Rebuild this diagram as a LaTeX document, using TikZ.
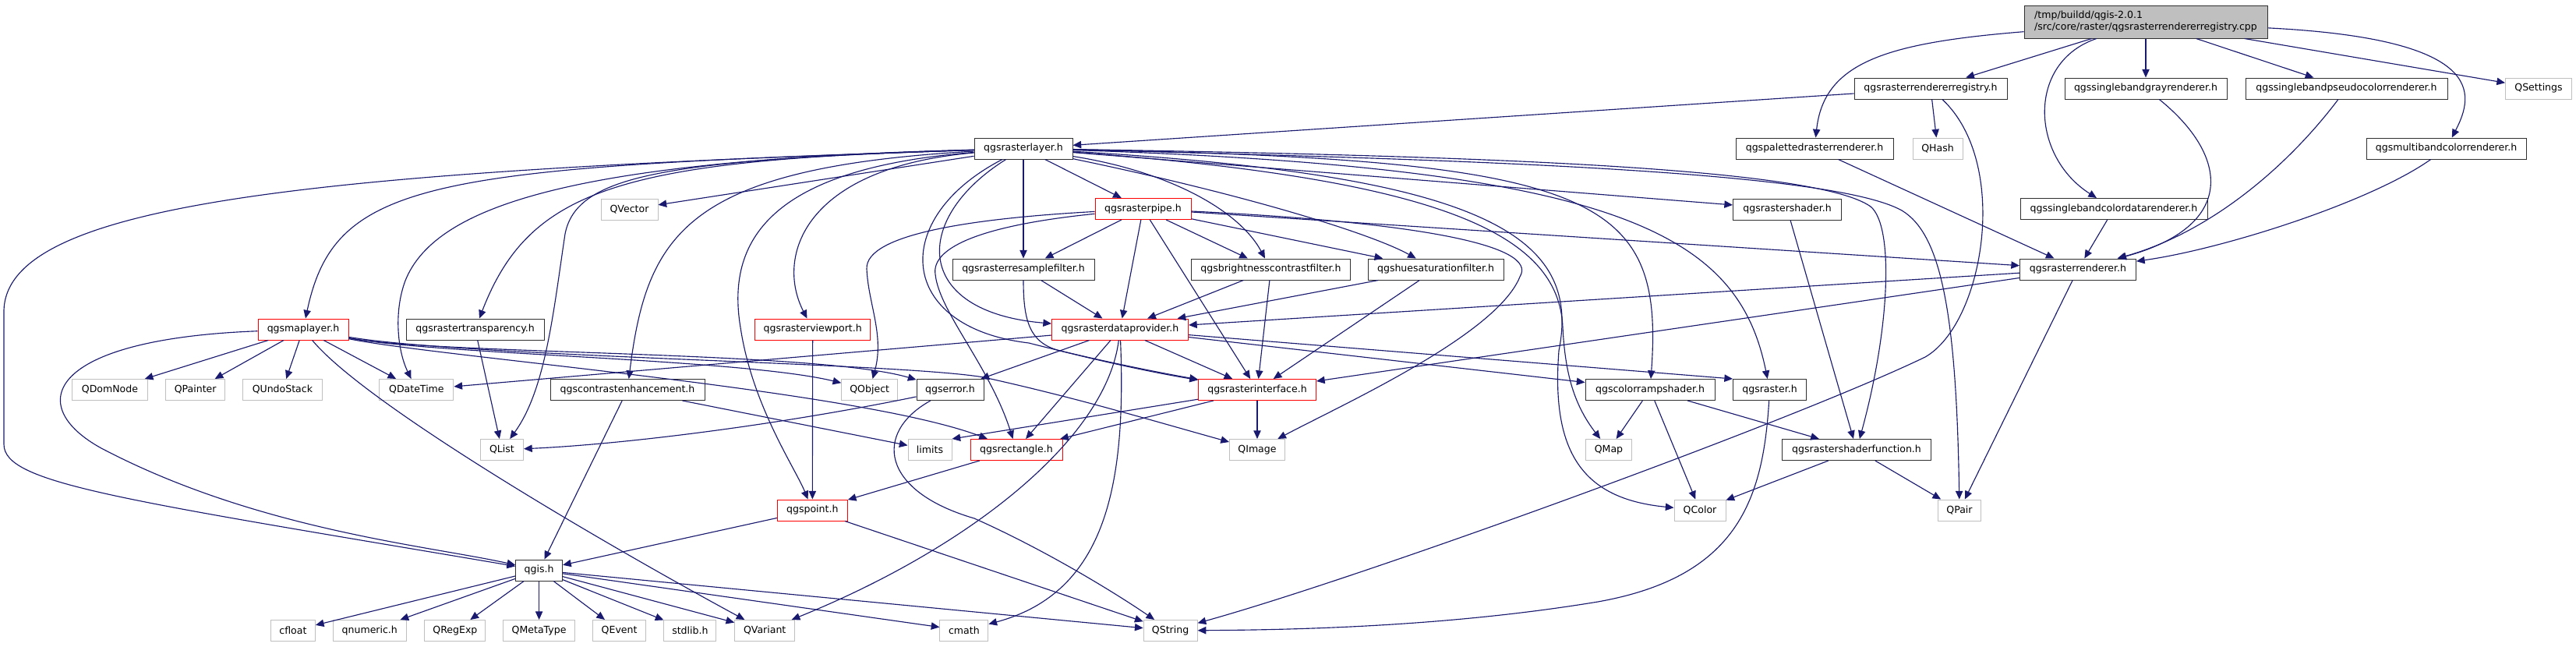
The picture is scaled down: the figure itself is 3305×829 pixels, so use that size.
\documentclass[tikz,border=0pt]{standalone}
\usepackage{fontspec}
\newfontfamily\dvs{DejaVu Sans}
\usetikzlibrary{arrows.meta}
\definecolor{edgecol}{HTML}{191970}
\definecolor{greyb}{HTML}{BFBFBF}
\definecolor{redb}{HTML}{FF0000}
\definecolor{blkb}{HTML}{303030}
\newcommand{\nodefont}{\dvs\fontsize{9.4pt}{11.25pt}\selectfont}
\newcommand{\mk}[6]{\node[#1, minimum width={#5*0.75pt}] (#2) at (#3,#4) {#6};}
\tikzset{
  nb/.style={draw, rectangle, fill=white, minimum height=20.25pt, inner sep=0pt, line width=0.75pt, font=\nodefont, text=black},
  blk/.style={nb, draw=blkb},
  rnode/.style={nb, draw=redb},
  gnode/.style={nb, draw=greyb},
  dep/.style={draw=edgecol, line width=0.85pt, -{Triangle[length=8pt,width=7pt]}},
}
\begin{document}
\begin{tikzpicture}[x={(0.75pt,0)}, y={(0,-0.75pt)}]
\fill[white] (0,0) rectangle (3305,829);
\useasboundingbox (0,0) rectangle (3305,829);

% ---------- nodes ----------
\node[nb, draw=blkb, fill=greyb, minimum width={312*0.75pt}, minimum height={42*0.75pt}, align=left] (root) at (2753,28) {/tmp/buildd/qgis-2.0.1\\/src/core/raster/qgsrasterrendererregistry.cpp};
\mk{blk}{rrreg}{2477}{113.5}{196}{qgsrasterrendererregistry.h}
\mk{blk}{gray}{2753}{113.5}{208}{qgssinglebandgrayrenderer.h}
\mk{blk}{pseudo}{3010.5}{113.5}{259}{qgssinglebandpseudocolorrenderer.h}
\mk{gnode}{qsettings}{3257}{113.5}{85}{QSettings}
\mk{blk}{rlayer}{1313}{190.5}{126}{qgsrasterlayer.h}
\mk{blk}{paletted}{2328}{190.5}{202}{qgspalettedrasterrenderer.h}
\mk{gnode}{qhash}{2486}{190.5}{64}{QHash}
\mk{blk}{multiband}{3138.5}{190.5}{205}{qgsmultibandcolorrenderer.h}
\mk{gnode}{qvector}{807.5}{268.5}{73}{QVector}
\mk{rnode}{rpipe}{1466.5}{268}{123}{qgsrasterpipe.h}
\mk{blk}{rshader}{2293}{268.5}{139}{qgsrastershader.h}
\mk{blk}{cdata}{2712}{268}{240}{qgssinglebandcolordatarenderer.h}
\mk{blk}{resample}{1313}{345.5}{182}{qgsrasterresamplefilter.h}
\mk{blk}{bright}{1630.5}{345.5}{204}{qgsbrightnesscontrastfilter.h}
\mk{blk}{hue}{1842}{345.5}{174}{qgshuesaturationfilter.h}
\mk{blk}{rrenderer}{2666}{345.5}{149}{qgsrasterrenderer.h}
\mk{rnode}{maplayer}{389}{422.5}{116}{qgsmaplayer.h}
\mk{blk}{rtransp}{609.6}{422.5}{177}{qgsrastertransparency.h}
\mk{rnode}{viewport}{1042.7}{422.5}{148}{qgsrasterviewport.h}
\mk{rnode}{dataprov}{1437}{422.5}{175}{qgsrasterdataprovider.h}
\mk{gnode}{qdomnode}{141}{500}{97}{QDomNode}
\mk{gnode}{qpainter}{250.7}{500}{76}{QPainter}
\mk{gnode}{qundostack}{362.4}{500}{102}{QUndoStack}
\mk{gnode}{qdatetime}{534.4}{500}{95}{QDateTime}
\mk{blk}{contrast}{805}{500}{198}{qgscontrastenhancement.h}
\mk{gnode}{qobject}{1115.7}{500}{72}{QObject}
\mk{blk}{qgserror}{1219}{500}{86}{qgserror.h}
\mk{rnode}{rinterface}{1613}{500}{151}{qgsrasterinterface.h}
\mk{blk}{colorramp}{2117}{500}{166}{qgscolorrampshader.h}
\mk{blk}{raster}{2270.5}{500}{94}{qgsraster.h}
\mk{gnode}{qlist}{644}{577}{55}{QList}
\mk{gnode}{limits}{1193}{577}{56}{limits}
\mk{rnode}{rectangle}{1304}{577}{118}{qgsrectangle.h}
\mk{gnode}{qimage}{1613}{577}{71}{QImage}
\mk{gnode}{qmap}{2064}{577}{59}{QMap}
\mk{blk}{shaderfn}{2382}{577}{191}{qgsrastershaderfunction.h}
\mk{rnode}{qgspoint}{1042.3}{654.5}{90}{qgspoint.h}
\mk{gnode}{qcolor}{2181}{654.5}{66}{QColor}
\mk{gnode}{qpair}{2514}{654.5}{55}{QPair}
\mk{blk}{qgis}{691.6}{731.5}{60}{qgis.h}
\mk{gnode}{cfloat}{375.9}{809}{57}{cfloat}
\mk{gnode}{qnumeric}{474.3}{809}{94}{qnumeric.h}
\mk{gnode}{qregexp}{583.9}{809}{78}{QRegExp}
\mk{gnode}{qmetatype}{691.6}{809}{92}{QMetaType}
\mk{gnode}{qevent}{794.6}{809}{68}{QEvent}
\mk{gnode}{stdlib}{885.4}{809}{67}{stdlib.h}
\mk{gnode}{qvariant}{981.2}{809}{77}{QVariant}
\mk{gnode}{cmath}{1236.9}{809}{62}{cmath}
\mk{gnode}{qstring}{1501.6}{809}{69}{QString}

% ---------- edges ----------
% root
\draw[dep] (root) -- (rrreg);
\draw[dep] (root) -- (gray);
\draw[dep] (root) -- (pseudo);
\draw[dep] (root) -- (qsettings);
\draw[dep] (root) .. controls (3190,50) and (3175,120) .. (multiband);
\draw[dep] (root) .. controls (2600,80) and (2605,200) .. (cdata);
\draw[dep] (root) .. controls (2420,55) and (2340,80) .. (paletted);
% registry header
\draw[dep] (rrreg) -- (rlayer);
\draw[dep] (rrreg) -- (qhash);
\draw[dep] (rrreg) .. controls (2580,210) and (2545,415) .. (2470,458) .. controls (2300,540) and (1750,740) .. (qstring);
% renderers
\draw[dep] (gray) .. controls (2860,200) and (2870,290) .. (rrenderer);
\draw[dep] (pseudo) .. controls (2930,220) and (2830,300) .. (rrenderer);
\draw[dep] (multiband) .. controls (3040,260) and (2850,320) .. (rrenderer);
\draw[dep] (cdata) -- (rrenderer);
\draw[dep] (paletted) -- (rrenderer);
\draw[dep] (rrenderer) -- (dataprov);
\draw[dep] (rrenderer) -- (rinterface);
\draw[dep] (rrenderer) -- (qpair);
% raster layer
\draw[dep] (rlayer) -- (rpipe);
\draw[dep] (rlayer) -- (resample);
\draw[dep] (rlayer) .. controls (1170,280) and (1170,400) .. (dataprov);
\draw[dep] (rlayer) .. controls (1140,280) and (1150,420) .. (1320,440) .. controls (1390,458) and (1470,475) .. (rinterface);
\draw[dep] (rlayer) .. controls (1500,220) and (1590,270) .. (bright);
\draw[dep] (rlayer) .. controls (1600,250) and (1760,300) .. (hue);
\draw[dep] (rlayer) -- (rshader);
\draw[dep] (rlayer) .. controls (2050,205) and (2135,250) .. (colorramp);
\draw[dep] (rlayer) .. controls (2080,215) and (2230,300) .. (raster);
\draw[dep] (rlayer) .. controls (1900,200) and (2330,215) .. (2400,265) .. controls (2430,290) and (2425,420) .. (shaderfn);
\draw[dep] (rlayer) .. controls (1900,205) and (2350,220) .. (2440,270) .. controls (2490,300) and (2510,400) .. (qpair);
\draw[dep] (rlayer) .. controls (1850,230) and (2000,300) .. (2005,420) .. controls (2008,480) and (2020,520) .. (qmap);
\draw[dep] (rlayer) .. controls (1900,225) and (2030,300) .. (2000,450) .. controls (1990,580) and (2030,640) .. (qcolor);
\draw[dep] (rlayer) -- (qvector);
\draw[dep] (rlayer) .. controls (1030,215) and (995,330) .. (viewport);
\draw[dep] (rlayer) .. controls (1000,215) and (930,300) .. (950,420) .. controls (965,520) and (1020,600) .. (qgspoint);
\draw[dep] (rlayer) .. controls (880,215) and (830,300) .. (contrast);
\draw[dep] (rlayer) .. controls (850,205) and (740,225) .. (725,300) .. controls (710,400) and (700,500) .. (qlist);
\draw[dep] (rlayer) .. controls (800,205) and (680,240) .. (rtransp);
\draw[dep] (rlayer) .. controls (750,205) and (560,260) .. (520,360) .. controls (505,400) and (510,450) .. (qdatetime);
\draw[dep] (rlayer) .. controls (550,215) and (430,230) .. (maplayer);
\draw[dep] (rlayer) .. controls (400,220) and (5,260) .. (5,400) -- (5,570) .. controls (5,620) and (150,640) .. (qgis);
% raster pipe
\draw[dep] (rpipe) .. controls (1250,280) and (1110,300) .. (1112,345) .. controls (1114,390) and (1135,430) .. (qobject);
\draw[dep] (rpipe) .. controls (1250,290) and (1195,320) .. (1200,352) .. controls (1205,400) and (1270,470) .. (rectangle);
\draw[dep] (rpipe) -- (resample);
\draw[dep] (rpipe) -- (dataprov);
\draw[dep] (rpipe) -- (rinterface);
\draw[dep] (rpipe) -- (bright);
\draw[dep] (rpipe) -- (hue);
\draw[dep] (rpipe) -- (rrenderer);
\draw[dep] (rpipe) .. controls (1820,285) and (1975,315) .. (1950,355) .. controls (1920,430) and (1720,520) .. (qimage);
% map layer
\draw[dep] (maplayer) -- (qdomnode);
\draw[dep] (maplayer) -- (qpainter);
\draw[dep] (maplayer) -- (qundostack);
\draw[dep] (maplayer) -- (qdatetime);
\draw[dep] (maplayer) .. controls (60,435) and (30,520) .. (130,575) .. controls (330,680) and (550,700) .. (qgis);
\draw[dep] (maplayer) .. controls (470,520) and (780,700) .. (qvariant);
\draw[dep] (maplayer) .. controls (560,455) and (950,460) .. (qobject);
\draw[dep] (maplayer) .. controls (560,455) and (1050,450) .. (qgserror);
\draw[dep] (maplayer) .. controls (560,458) and (1100,500) .. (rectangle);
\draw[dep] (maplayer) .. controls (600,458) and (1150,465) .. (1262,484) .. controls (1380,510) and (1480,540) .. (qimage);
% others
\draw[dep] (rtransp) -- (qlist);
\draw[dep] (contrast) -- (qgis);
\draw[dep] (contrast) -- (limits);
\draw[dep] (viewport) -- (qgspoint);
% data provider
\draw[dep] (dataprov) -- (qdatetime);
\draw[dep] (dataprov) -- (qgserror);
\draw[dep] (dataprov) -- (rectangle);
\draw[dep] (dataprov) -- (rinterface);
\draw[dep] (dataprov) .. controls (1420,560) and (1250,700) .. (qvariant);
\draw[dep] (dataprov) .. controls (1445,620) and (1420,760) .. (cmath);
\draw[dep] (dataprov) -- (raster.north west);
\draw[dep] (dataprov) -- (colorramp);
% filters
\draw[dep] (resample) -- (dataprov);
\draw[dep] (resample) .. controls (1313,410) and (1320,440) .. (1360,450) .. controls (1420,465) and (1480,478) .. (rinterface);
\draw[dep] (bright) -- (dataprov);
\draw[dep] (bright) -- (rinterface);
\draw[dep] (hue) -- (dataprov);
\draw[dep] (hue) -- (rinterface);
% interface
\draw[dep] (rinterface) -- (limits.north east);
\draw[dep] (rinterface) -- (rectangle);
\draw[dep] (rinterface) -- (qimage);
% error
\draw[dep] (qgserror) .. controls (1000,545) and (800,570) .. (qlist);
\draw[dep] (qgserror) .. controls (1120,555) and (1130,630) .. (1250,665) .. controls (1340,705) and (1430,760) .. (qstring);
% rectangle / point
\draw[dep] (rectangle) -- (qgspoint);
\draw[dep] (qgspoint) -- (qgis);
\draw[dep] (qgspoint) -- (qstring);
% qgis
\draw[dep] (qgis) -- (cfloat);
\draw[dep] (qgis) -- (qnumeric);
\draw[dep] (qgis) -- (qregexp);
\draw[dep] (qgis) -- (qmetatype);
\draw[dep] (qgis) -- (qevent);
\draw[dep] (qgis) -- (stdlib);
\draw[dep] (qgis) -- (qvariant);
\draw[dep] (qgis) -- (cmath);
\draw[dep] (qgis) -- (qstring);
% shaders
\draw[dep] (colorramp) -- (qmap);
\draw[dep] (colorramp) -- (qcolor);
\draw[dep] (colorramp) -- (shaderfn);
\draw[dep] (raster) .. controls (2262,640) and (2230,740) .. (2050,772) .. controls (1850,805) and (1650,808) .. (qstring);
\draw[dep] (rshader) -- (shaderfn);
\draw[dep] (shaderfn) -- (qcolor);
\draw[dep] (shaderfn) -- (qpair);
\end{tikzpicture}
\end{document}
